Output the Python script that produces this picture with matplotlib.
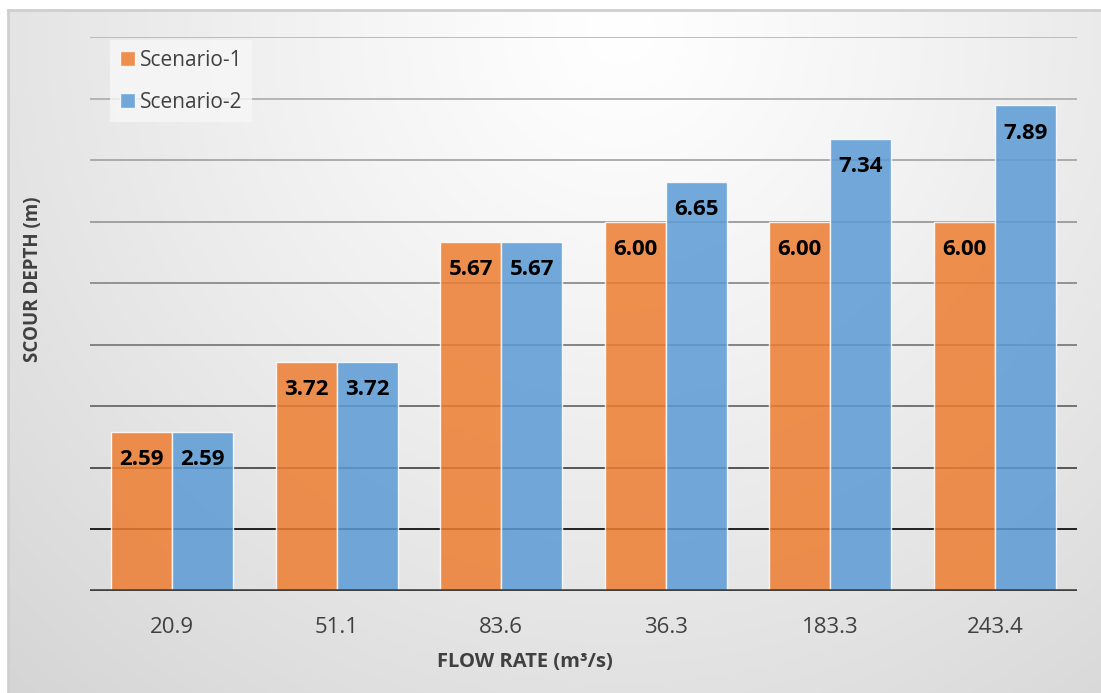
import numpy as np
import matplotlib
matplotlib.use("Agg")
import matplotlib.pyplot as plt

# ---- data ----
categories = ["20.9", "51.1", "83.6", "36.3", "183.3", "243.4"]
scenario_1 = [2.59, 3.72, 5.67, 6.00, 6.00, 6.00]
scenario_2 = [2.59, 3.72, 5.67, 6.65, 7.34, 7.89]
series_names = ["Scenario-1", "Scenario-2"]

W, H = 1101, 693
fig = plt.figure(figsize=(W / 100, H / 100), dpi=100)
plt.rcParams['font.family'] = ['Open Sans', 'DejaVu Sans']

# ---- background gradient ----
bg = fig.add_axes([0, 0, 1, 1], zorder=-10)
bg.set_xlim(0, W)
bg.set_ylim(H, 0)
bg.axis("off")
yy, xx = np.mgrid[0:H, 0:W]
d = np.hypot(xx - 620, (yy - 30) * 1.0)
val = 255 - 42 * (d / 900) ** 1.15
val = np.clip(val, 200, 255) / 255.0
img = np.dstack([val, val, val])
mask = (xx < 8) | (yy < 10)
img[mask] = 1.0
bg.imshow(img, extent=(0, W, H, 0), aspect="auto", interpolation="bilinear")
bg.plot([8, W], [10, 10], color="#cfcfcf", lw=2)
bg.plot([8, 8], [10, H], color="#cfcfcf", lw=2)

# ---- main axes ----
left, right, top, bottom = 90, 1077, 37, 591
ax = fig.add_axes([left / W, 1 - bottom / H, (right - left) / W, (bottom - top) / H])
ax.set_facecolor("none")
ax.set_xlim(-0.5, len(categories) - 0.5)
ax.set_ylim(0, 9)

grid_colors = ['#111111', '#4a4a4a', '#6a6a6a', '#7c7c7c', '#8c8c8c',
               '#9a9a9a', '#a6a6a6', '#b0b0b0', '#b8b8b8']
for i, c in enumerate(grid_colors, start=1):
    ax.axhline(i, color=c, lw=1.3, zorder=1)

x = np.arange(len(categories))
bw = 0.372
b1 = ax.bar(x - bw / 2, scenario_1, width=bw, color="#ED7D31", alpha=0.85,
            edgecolor=(1, 1, 1, 0.6), linewidth=1.0, zorder=2, label=series_names[0])
b2 = ax.bar(x + bw / 2, scenario_2, width=bw, color="#5B9BD5", alpha=0.85,
            edgecolor=(1, 1, 1, 0.6), linewidth=1.0, zorder=2, label=series_names[1])

for bars, vals in ((b1, scenario_1), (b2, scenario_2)):
    for rect, v in zip(bars, vals):
        ax.annotate(f"{v:.2f}", (rect.get_x() + rect.get_width() / 2, v),
                    xytext=(0, -20), textcoords="offset points",
                    ha="center", va="center", fontsize=16, fontweight="bold",
                    color="black", zorder=5)

ax.axhline(0, color="#404040", lw=2.6, zorder=4)
for s in ax.spines.values():
    s.set_visible(False)
ax.set_yticks([])
ax.set_xticks(x)
ax.set_xticklabels(categories, fontsize=16, color="#404040")
ax.tick_params(axis="x", length=0, pad=19)

fig.text(525 / W, 1 - 662 / H, "FLOW RATE (m³/s)", ha="center", va="center",
         fontsize=14.5, fontweight="bold", color="#404040")
fig.text(33 / W, 1 - 279 / H, "SCOUR DEPTH (m)", ha="center", va="center",
         rotation=90, fontsize=13.5, fontweight="bold", color="#404040")

leg = ax.legend(loc="upper left", bbox_to_anchor=(100 / W, 1 - 30 / H),
                bbox_transform=fig.transFigure, frameon=True, fontsize=15.0,
                handlelength=0.72, handleheight=0.72, handletextpad=0.25,
                labelspacing=1.0, borderpad=0.45, labelcolor="#404040")
leg.get_frame().set_facecolor((0.97, 0.97, 0.97, 0.6))
leg.get_frame().set_edgecolor("none")
leg.get_frame().set_boxstyle("square", pad=0)

fig.savefig("out.png", dpi=100)
